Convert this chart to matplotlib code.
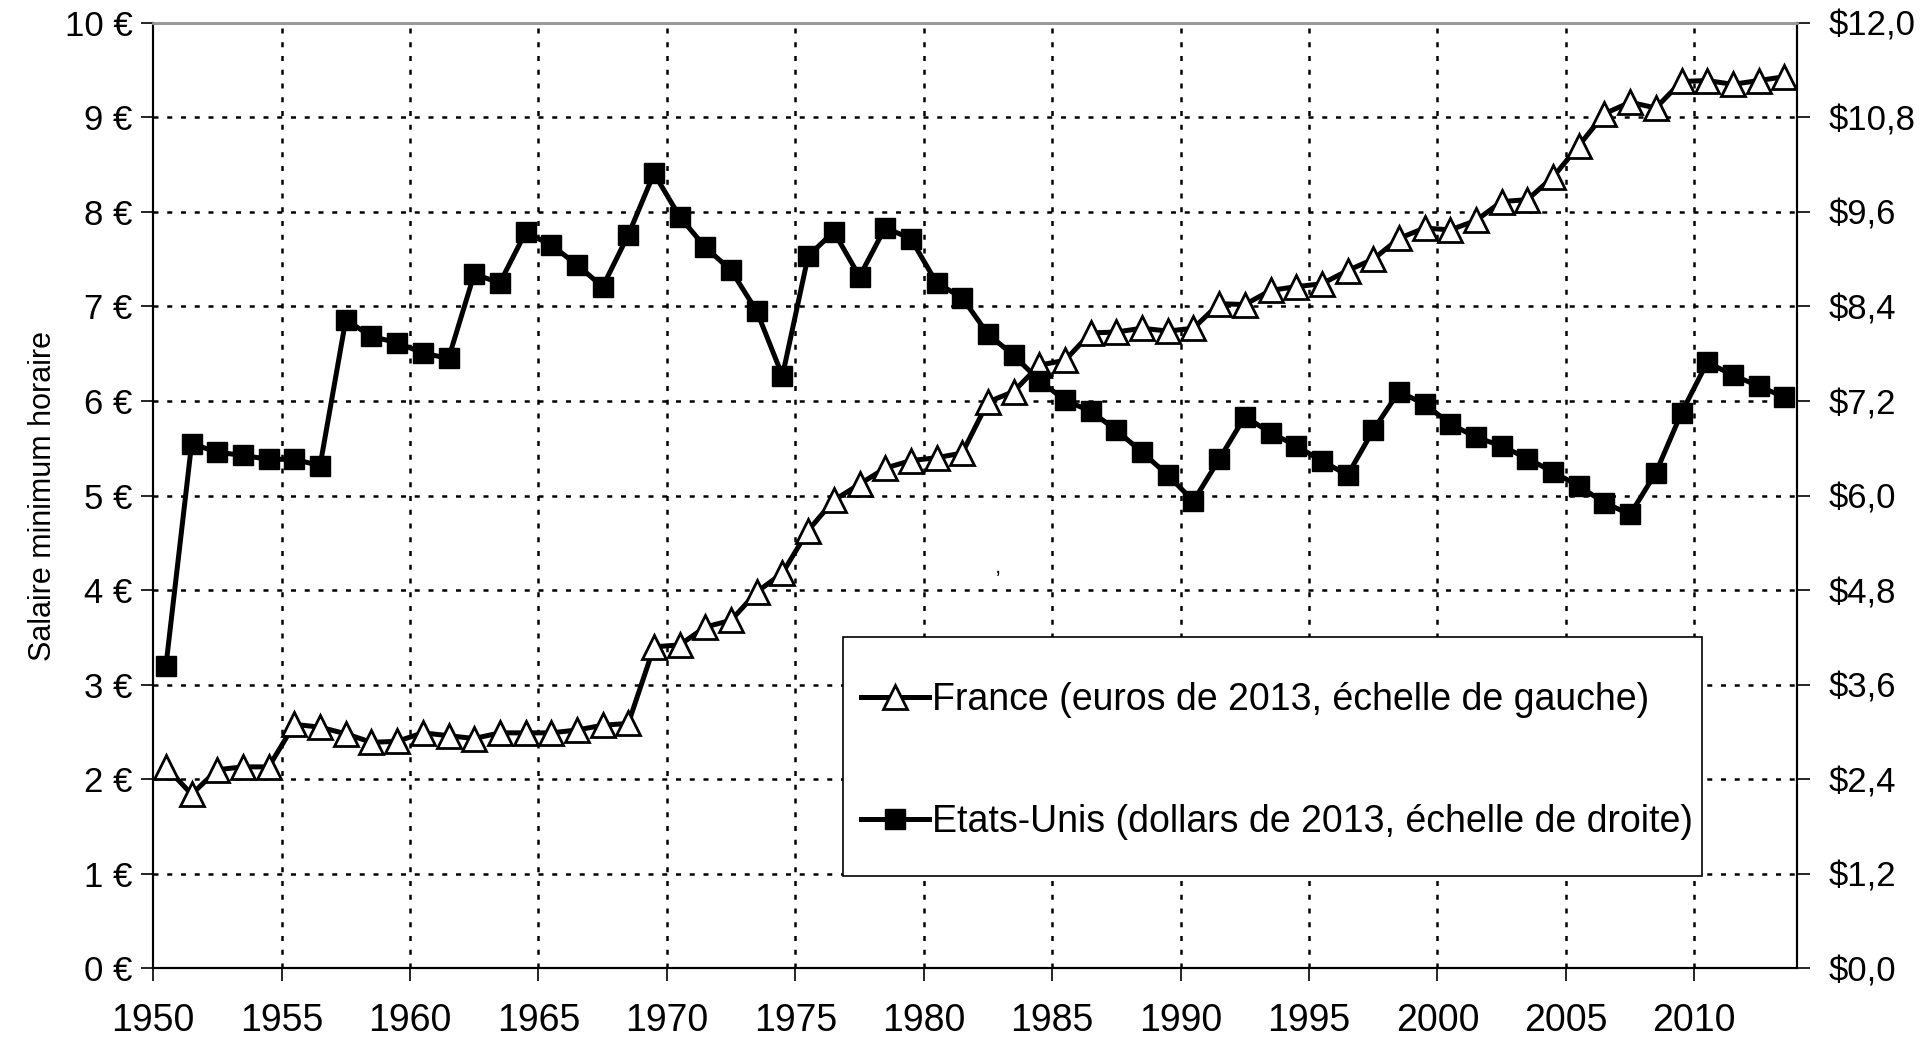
import matplotlib
matplotlib.use("Agg")
import matplotlib.pyplot as plt
import numpy as np
from matplotlib.ticker import FixedLocator, FuncFormatter
from matplotlib.patches import Rectangle

plt.rcParams['font.family'] = ['Liberation Sans', 'DejaVu Sans']

years = list(range(1950, 2014))
france_eur = [2.13, 1.84, 2.10, 2.13, 2.13, 2.58, 2.55, 2.48, 2.39, 2.40,
              2.49, 2.46, 2.43, 2.49, 2.49, 2.49, 2.52, 2.57, 2.59, 3.40,
              3.42, 3.61, 3.68, 3.98, 4.18, 4.63, 4.95, 5.12, 5.29, 5.37,
              5.40, 5.45, 5.99, 6.10, 6.38, 6.43, 6.72, 6.73, 6.77, 6.74,
              6.77, 7.03, 7.02, 7.17, 7.21, 7.24, 7.38, 7.50, 7.72, 7.83,
              7.81, 7.91, 8.11, 8.13, 8.37, 8.70, 9.04, 9.16, 9.10, 9.38,
              9.39, 9.35, 9.39, 9.43]
usa_usd = [3.84, 6.66, 6.55, 6.51, 6.46, 6.46, 6.38, 8.23, 8.02, 7.94,
           7.81, 7.74, 8.81, 8.70, 9.34, 9.18, 8.93, 8.65, 9.31, 10.09,
           9.54, 9.15, 8.86, 8.34, 7.52, 9.04, 9.35, 8.78, 9.40, 9.26,
           8.70, 8.51, 8.05, 7.78, 7.46, 7.21, 7.07, 6.83, 6.55, 6.26,
           5.93, 6.46, 7.00, 6.80, 6.63, 6.44, 6.26, 6.83, 7.32, 7.16,
           6.91, 6.74, 6.63, 6.47, 6.30, 6.12, 5.91, 5.76, 6.29, 7.05,
           7.69, 7.53, 7.39, 7.25]
x_ticks = list(range(1950, 2011, 5))
x_tick_labels = [str(y) for y in x_ticks]
left_ticks = list(range(0, 11))
right_ticks = [1.2 * i for i in range(0, 11)]
label_france = "France (euros de 2013, échelle de gauche)"
label_usa = "Etats-Unis (dollars de 2013, échelle de droite)"
ylabel = "Salaire minimum horaire"

fig = plt.figure(figsize=(19.21, 10.40), dpi=100)
ax = fig.add_axes([0.0797, 0.069, 0.8558, 0.909])
ax2 = ax.twinx()

xpos = np.array(years) + 0.5

lf, = ax.plot(xpos, france_eur, color='black', lw=3.6, marker='^', ms=17,
              mfc='white', mec='black', mew=2.0, zorder=3)
lu, = ax2.plot(xpos, usa_usd, color='black', lw=3.6, marker='s', ms=14.5,
               mfc='black', mec='black', zorder=3)

ax.set_xlim(1950, 2014)
ax.set_ylim(0, 10)
ax2.set_ylim(0, 12)

ax.xaxis.set_major_locator(FixedLocator(x_ticks))
ax.set_xticklabels(x_tick_labels)
ax.yaxis.set_major_locator(FixedLocator(left_ticks))
ax.yaxis.set_major_formatter(FuncFormatter(lambda v, p: f"{int(round(v))} €"))
ax2.yaxis.set_major_locator(FixedLocator(right_ticks))
ax2.yaxis.set_major_formatter(FuncFormatter(lambda v, p: ("$%.1f" % v).replace('.', ',')))

grid_style = dict(color='black', linestyle=(0, (2.0, 3.5)), linewidth=1.8)
ax.grid(True, which='major', axis='both', **grid_style)
ax.set_axisbelow(True)
ax.xaxis.get_gridlines()[0].set_visible(False)
ax.yaxis.get_gridlines()[0].set_visible(False)

for a in (ax, ax2):
    a.tick_params(axis='both', direction='out', length=9, width=1.2)
    a.spines['top'].set_color('#999999')
    a.spines['top'].set_linewidth(2)
    for s in ('left', 'right', 'bottom'):
        a.spines[s].set_color('black')
        a.spines[s].set_linewidth(1.5)
ax.tick_params(axis='x', labelsize=27, pad=16)
ax.tick_params(axis='y', labelsize=25, pad=6)
ax2.tick_params(axis='y', labelsize=25, pad=14)

ax.set_ylabel(ylabel, fontsize=22, labelpad=5)

ax.text(1982.9, 4.24, ",", fontsize=16, ha='center', va='center')

# legend frame
ax2.add_patch(Rectangle((0.4197, 0.0975), 0.9421 - 0.4197, 0.3503 - 0.0975,
                        transform=ax2.transAxes, facecolor='white',
                        edgecolor='black', linewidth=1.2, zorder=4))
leg = ax2.legend([lf, lu], [label_france, label_usa], loc='center left',
                 bbox_to_anchor=(0.4306, 0.2194), fontsize=27, frameon=False,
                 handlelength=1.8, handletextpad=0.1, labelspacing=2.3,
                 borderpad=0, borderaxespad=0)
leg.set_zorder(5)

fig.savefig("out.png", dpi=100)
